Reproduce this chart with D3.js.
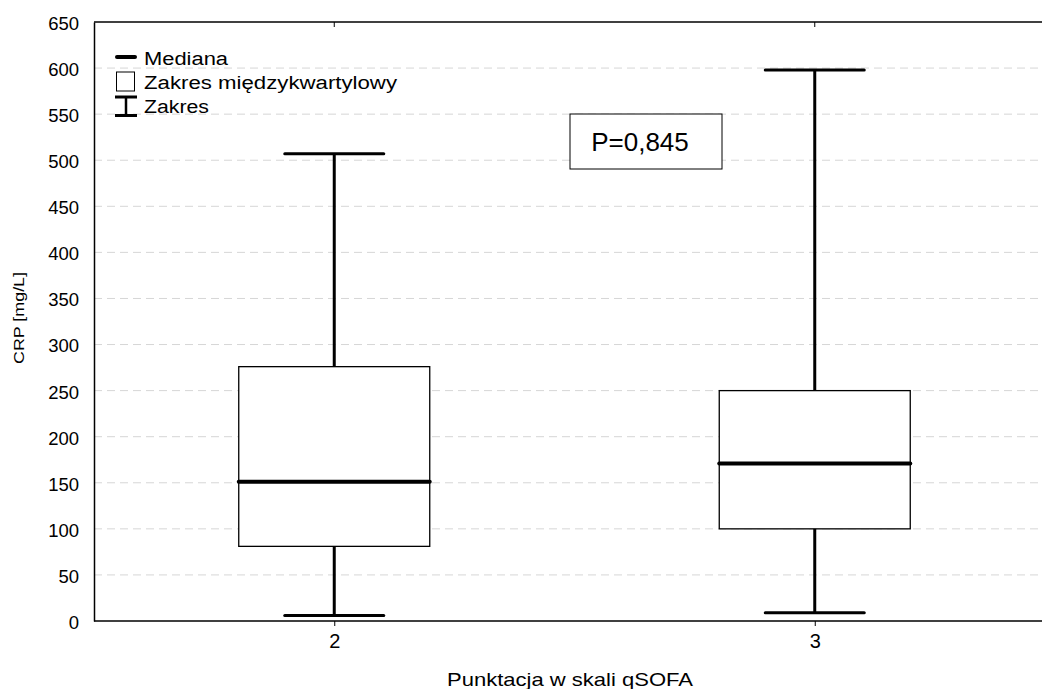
<!DOCTYPE html>
<html><head><meta charset="utf-8">
<script src="https://cdn.jsdelivr.net/npm/d3@7"></script>
<style>body{margin:0;background:#fff}svg{display:block;font-family:Arial,"Liberation Sans",sans-serif}</style>
</head><body><svg id="c" width="1042" height="689"></svg>
<script>
const categories = ["2", "3"];
const mins = [6, 9];
const q1s = [81, 100];
const medians = [151, 171];
const q3s = [276, 250];
const maxs = [507, 598];
const yTicks = [0,50,100,150,200,250,300,350,400,450,500,550,600,650];
const legendLabels = ["Mediana", "Zakres międzykwartylowy", "Zakres"];
const pText = "P=0,845";
const xTitle = "Punktacja w skali qSOFA";
const yTitle = "CRP [mg/L]";

const svg = d3.select("#c");
const L = 94, R = 1055, T = 22, B = 621;
const x = d3.scalePoint().domain(categories).range([L, R]).padding(0.5);
const y = d3.scaleLinear().domain([0, 650]).range([B, T]);

// grid
svg.append("g").selectAll("line").data(yTicks.filter(d => d > 0 && d < 650)).join("line")
  .attr("x1", L).attr("x2", 1042).attr("y1", d => y(d)).attr("y2", d => y(d))
  .attr("stroke", "#d6d6d6").attr("stroke-width", 1).attr("stroke-dasharray", "8,5");

// axes
const ya = svg.append("g").attr("transform", `translate(${L},0)`)
  .call(d3.axisLeft(y).tickValues(yTicks).tickSize(0).tickPadding(15));
ya.attr("font-family", null).attr("font-size", null);
ya.select(".domain").attr("stroke", "#000").attr("stroke-width", 1.5);
ya.selectAll("text").attr("font-size", 18.5).attr("fill", "#000").attr("dy", "0.4em");

const xa = svg.append("g").attr("transform", `translate(0,${B})`)
  .call(d3.axisBottom(x).tickSize(5).tickPadding(8));
xa.attr("font-family", null).attr("font-size", null);
xa.select(".domain").attr("stroke", "#000").attr("stroke-width", 1.5).attr("d", `M${L},0H1042`);
xa.selectAll("line").attr("stroke", "#000");
xa.selectAll("text").attr("font-size", 20).attr("fill", "#000");

// top border
svg.append("line").attr("x1", L).attr("x2", 1042).attr("y1", T).attr("y2", T).attr("stroke", "#000").attr("stroke-width", 1.5);
svg.append("g").selectAll("line").data(categories).join("line")
  .attr("x1", d => x(d)).attr("x2", d => x(d)).attr("y1", T).attr("y2", T + 5).attr("stroke", "#000");

// boxes
const boxW = 191, capW = 99;
const g = svg.append("g").selectAll("g").data(categories).join("g");
g.append("line").attr("x1", d => x(d)).attr("x2", d => x(d))
  .attr("y1", (d, i) => y(maxs[i])).attr("y2", (d, i) => y(mins[i]))
  .attr("stroke", "#000").attr("stroke-width", 3);
g.append("rect").attr("x", d => x(d) - boxW / 2).attr("width", boxW)
  .attr("y", (d, i) => y(q3s[i])).attr("height", (d, i) => y(q1s[i]) - y(q3s[i]))
  .attr("fill", "#fff").attr("stroke", "#000").attr("stroke-width", 1.3);
[maxs, mins].forEach(arr => {
  g.append("line").attr("x1", d => x(d) - capW / 2).attr("x2", d => x(d) + capW / 2)
    .attr("y1", (d, i) => y(arr[i])).attr("y2", (d, i) => y(arr[i]))
    .attr("stroke", "#000").attr("stroke-width", 3).attr("stroke-linecap", "round");
});
g.append("line").attr("x1", d => x(d) - boxW / 2).attr("x2", d => x(d) + boxW / 2)
  .attr("y1", (d, i) => y(medians[i])).attr("y2", (d, i) => y(medians[i]))
  .attr("stroke", "#000").attr("stroke-width", 4).attr("stroke-linecap", "round");

// legend
const lg = svg.append("g");
lg.append("line").attr("x1", 117).attr("x2", 135).attr("y1", 57).attr("y2", 57).attr("stroke", "#000").attr("stroke-width", 4).attr("stroke-linecap", "round");
lg.append("rect").attr("x", 116.5).attr("y", 72).attr("width", 18).attr("height", 19).attr("fill", "#fff").attr("stroke", "#000").attr("stroke-width", 1);
lg.append("line").attr("x1", 115).attr("x2", 137).attr("y1", 97).attr("y2", 97).attr("stroke", "#000").attr("stroke-width", 3);
lg.append("line").attr("x1", 115).attr("x2", 137).attr("y1", 115.5).attr("y2", 115.5).attr("stroke", "#000").attr("stroke-width", 3);
lg.append("line").attr("x1", 126).attr("x2", 126).attr("y1", 97).attr("y2", 115.5).attr("stroke", "#000").attr("stroke-width", 2.5);
const legW = [84, 253, 65];
lg.selectAll("text").data(legendLabels).join("text")
  .attr("x", 144).attr("y", (d, i) => 65 + i * 24).attr("font-size", 18).attr("fill", "#000")
  .attr("textLength", (d, i) => legW[i]).attr("lengthAdjust", "spacingAndGlyphs").text(d => d);

// P box
svg.append("rect").attr("x", 570).attr("y", 114).attr("width", 152).attr("height", 55).attr("fill", "#fff").attr("stroke", "#000").attr("stroke-width", 1);
svg.append("text").attr("x", 640).attr("y", 151).attr("text-anchor", "middle").attr("font-size", 26).text(pText);

// titles
svg.append("text").attr("x", 570).attr("y", 686).attr("text-anchor", "middle").attr("font-size", 18.5)
  .attr("textLength", 246).attr("lengthAdjust", "spacingAndGlyphs").text(xTitle);
svg.append("text").attr("transform", "translate(24,318) rotate(-90)").attr("text-anchor", "middle").attr("font-size", 15.5)
  .attr("textLength", 92).attr("lengthAdjust", "spacingAndGlyphs").text(yTitle);
</script></body></html>
